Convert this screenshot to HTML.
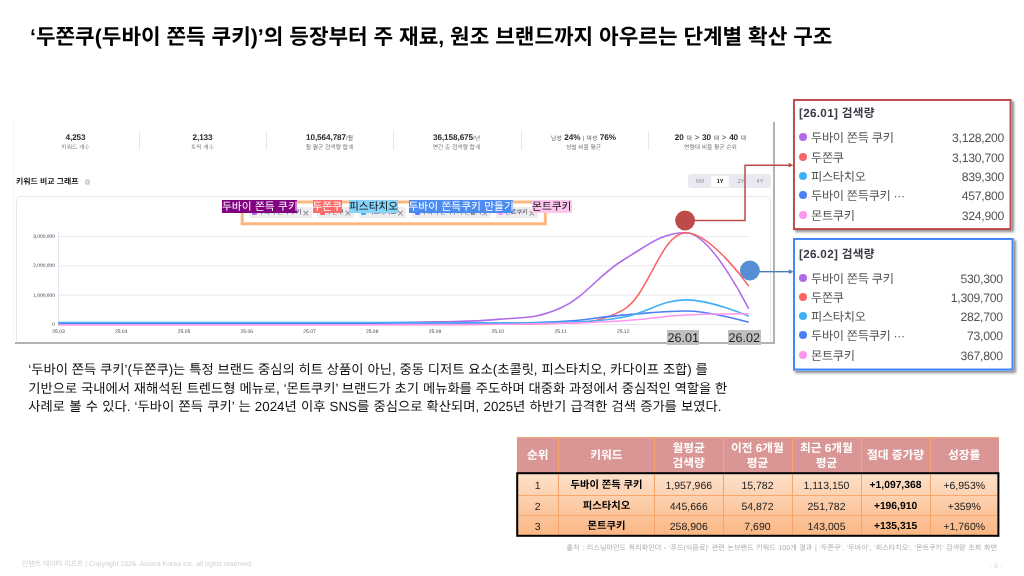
<!DOCTYPE html>
<html lang="ko">
<head>
<meta charset="utf-8">
<title>두쫀쿠 단계별 확산 구조</title>
<style>
*{box-sizing:border-box;margin:0;padding:0}
html,body{width:1024px;height:576px;overflow:hidden;background:#fff}
body{position:relative;text-rendering:geometricPrecision;font-family:"Liberation Sans","Noto Sans CJK KR",sans-serif;color:#000}
.abs{position:absolute}
#title{position:absolute;left:30px;top:18.5px;font-size:21.3px;font-weight:700;line-height:36px;white-space:nowrap;letter-spacing:0;color:#000}
/* screenshot panel */
#shot{position:absolute;left:13px;top:120px;width:760px;height:222px;background:#fff;border-left:1px solid #f6f6f8}
.shd{position:absolute;background:#b2b2b2}
#shotbg{position:absolute;left:0;top:0;width:1024px;height:576px}
.stat{position:absolute;top:131.1px;width:127px;text-align:center;white-space:nowrap}
.stat .n{font-size:8.2px;font-weight:700;color:#2a2a30;line-height:13px;height:13px;letter-spacing:-0.1px}
.stat .n small{font-size:5.8px;font-weight:400;color:#555;letter-spacing:0}
.stat .n u{text-decoration:none;font-weight:400;font-size:8px;color:#444}
.stat .l{font-size:5.8px;color:#777;line-height:8px;height:8px;margin-top:0.2px}
.sep{position:absolute;top:131px;width:1px;height:19px;background:#e6e6ee}
#gtitle{position:absolute;left:16px;top:176px;font-size:7.9px;font-weight:700;color:#222;line-height:12px;white-space:nowrap}
#ginfo{position:absolute;left:84.5px;top:179px;width:5.6px;height:5.6px;border-radius:50%;background:#d0d0d6}
#card{position:absolute;left:3px;top:76px;width:755px;height:160px;border:1px solid #e6e6ea;border-radius:5px;border-bottom:none}
#range{position:absolute;left:688px;top:174.1px;width:83px;height:14px;background:#e9e9f0;border-radius:3px}
#range span{position:absolute;top:1px;height:14px;line-height:14px;font-size:5.7px;color:#8c8ca2;text-align:center;width:20px}
#range .on{background:#fff;color:#111;font-weight:700;border-radius:2.5px;top:1.9px;height:10.6px;line-height:12.4px;width:18.3px}
.yl{position:absolute;left:20px;width:35px;text-align:right;font-size:4.9px;line-height:7px;color:#444;white-space:nowrap}
.xl{position:absolute;top:328.8px;width:30px;text-align:center;font-size:5px;line-height:7px;color:#444}
.pill{position:absolute;top:207.2px;height:10.8px;background:#ececf1;border-radius:2.5px;font-size:6.3px;line-height:10.6px;color:#3a3a44;white-space:nowrap;overflow:hidden}
.pill i{position:absolute;left:2.8px;top:3.1px;width:5px;height:5px;border-radius:1.2px}
.pill b{position:absolute;right:2.2px;top:1.7px;font-weight:400;font-size:11.5px;color:#8a8a8a}
.pill span{position:absolute;left:9.6px;top:1.3px;letter-spacing:-0.15px}
#orect{position:absolute;left:240.8px;top:200.6px;width:305.8px;height:24.6px;border:2.7px solid #fab680}
.tag{position:absolute;top:200.2px;height:13.2px;line-height:15.4px;font-size:10.7px;white-space:nowrap;text-align:center;overflow:hidden;word-spacing:0.5px}
.gl{position:absolute;top:329.7px;height:15px;line-height:16px;background:#bfbfbf;color:#222;font-size:12.6px;text-align:center;white-space:nowrap}
/* info boxes */
.box{position:absolute;background:#fff}
#rbox{left:793px;top:99px;width:218.5px;height:131px;box-shadow:1.5px 1.5px 2.5px rgba(0,0,0,.45)}
#bbox{left:793px;top:238px;width:220.5px;height:132.5px;box-shadow:1.5px 1.5px 2.5px rgba(0,0,0,.45)}
.box h4{position:absolute;left:6px;font-size:11.7px;font-weight:700;color:#3a3a46;line-height:16px;white-space:nowrap;letter-spacing:0.3px}
.box svg{position:absolute;left:0;top:0}
.row{position:absolute;left:0;right:0;margin-top:0.7px;height:18px;line-height:18px;font-size:12.2px;color:#555;white-space:nowrap;letter-spacing:-0.3px}
.row i{position:absolute;left:5.7px;top:4px;width:8px;height:8px;border-radius:50%}
.row span{position:absolute;left:18px;top:0}
#bbox .row em{right:10.7px}
.row em{position:absolute;right:7.5px;top:0;font-style:normal;color:#555;letter-spacing:-0.25px}
/* paragraph */
#para{position:absolute;left:28.3px;top:361.3px;font-size:13.3px;line-height:18.6px;color:#111;white-space:nowrap;letter-spacing:0;word-spacing:0.15px}
/* table */
#tbl{position:absolute;left:517px;top:437px;width:481.5px;height:99px}
#thead{position:absolute;left:0;top:0;width:481.5px;height:35.5px;background:#d99694;border-top:1px solid #f3a878}
.th{position:absolute;top:0;height:35.5px;color:#fff;font-weight:700;font-size:11.7px;line-height:15.4px;text-align:center;display:flex;align-items:center;justify-content:center;padding-top:0.6px}
.vs{position:absolute;top:0;width:1px;margin-left:-0.5px;background:#f5a56c}
#tbody{position:absolute;left:0;top:35.5px;width:481.5px;height:63.5px;background:linear-gradient(#fde1cb,#fbb682)}
.tr{position:absolute;left:0;width:481.5px;height:20.6px}
.td{position:absolute;top:0.6px;height:20.6px;line-height:20.6px;font-size:10.5px;color:#222;text-align:center;white-space:nowrap}
.td.b{font-weight:700;color:#000;font-size:10.3px;letter-spacing:0}
.hs{position:absolute;left:0;width:481.5px;height:1px;background:#f9a86e}
#src{position:absolute;right:27px;top:543.5px;font-size:7.1px;line-height:9px;color:#adadad;white-space:nowrap;word-spacing:0.65px}
#foot{position:absolute;left:22px;top:559.7px;font-size:6.95px;line-height:9px;color:#cfcfcf;white-space:nowrap}
#pno{position:absolute;left:990px;top:562.3px;font-size:7px;line-height:9px;color:#dadada;white-space:nowrap}
</style>
</head>
<body>
<div id="title">‘두쫀쿠(두바이 쫀득 쿠키)’의 등장부터 주 재료, 원조 브랜드까지 아우르는 단계별 확산 구조</div>

<div class="shd" style="left:773px;top:121.5px;width:1.7px;height:222.7px"></div><div class="shd" style="left:14.5px;top:342px;width:760.2px;height:2.2px"></div>
<div id="shot"></div>

<!-- stats -->
<div class="stat" style="left:12px"><div class="n">4,253</div><div class="l">키워드 개수</div></div>
<div class="stat" style="left:139px"><div class="n">2,133</div><div class="l">토픽 개수</div></div>
<div class="stat" style="left:266px"><div class="n">10,564,787<small>/월</small></div><div class="l">월 평균 검색량 합계</div></div>
<div class="stat" style="left:393px"><div class="n">36,158,675<small>/년</small></div><div class="l">연간 총 검색량 합계</div></div>
<div class="stat" style="left:520px"><div class="n" style="word-spacing:0.4px"><small>남성</small> 24% <small>| 여성</small> 76%</div><div class="l">성별 비율 평균</div></div>
<div class="stat" style="left:647px"><div class="n" style="word-spacing:0.6px">20 <small>대</small> <u>&gt;</u> 30 <small>대</small> <u>&gt;</u> 40 <small>대</small></div><div class="l">연령대 비율 평균 순위</div></div>
<div class="sep" style="left:139px"></div><div class="sep" style="left:266px"></div><div class="sep" style="left:393px"></div><div class="sep" style="left:520.5px"></div><div class="sep" style="left:647.5px"></div>

<div id="gtitle">키워드 비교 그래프</div><div id="ginfo"></div><div class="abs" style="left:87px;top:180.9px;width:0.7px;height:2px;background:#fff;opacity:.55"></div>
<div id="range"><span style="left:2px">6M</span><span class="on" style="left:23px">1Y</span><span style="left:43px">2Y</span><span style="left:62px">4Y</span></div>
<div class="abs" style="left:13px;top:120px;width:760px;height:222px;overflow:hidden"><div id="card"></div></div>

<svg id="shotbg" viewBox="0 0 1024 576">
<line x1="58.5" y1="324.5" x2="748.5" y2="324.5" stroke="#e4e4ec" stroke-width="0.8"/>
<line x1="58.5" y1="295.2" x2="748.5" y2="295.2" stroke="#e4e4ec" stroke-width="0.8"/>
<line x1="58.5" y1="265.8" x2="748.5" y2="265.8" stroke="#e4e4ec" stroke-width="0.8"/>
<line x1="58.5" y1="236.5" x2="748.5" y2="236.5" stroke="#e4e4ec" stroke-width="0.8"/>
<line x1="58.5" y1="232" x2="58.5" y2="324.5" stroke="#dcdcf0" stroke-width="0.8"/>
<line x1="58.5" y1="324.5" x2="58.5" y2="326.0" stroke="#dcdcf0" stroke-width="0.6"/>
<line x1="121.2" y1="324.5" x2="121.2" y2="326.0" stroke="#dcdcf0" stroke-width="0.6"/>
<line x1="184.0" y1="324.5" x2="184.0" y2="326.0" stroke="#dcdcf0" stroke-width="0.6"/>
<line x1="246.8" y1="324.5" x2="246.8" y2="326.0" stroke="#dcdcf0" stroke-width="0.6"/>
<line x1="309.5" y1="324.5" x2="309.5" y2="326.0" stroke="#dcdcf0" stroke-width="0.6"/>
<line x1="372.2" y1="324.5" x2="372.2" y2="326.0" stroke="#dcdcf0" stroke-width="0.6"/>
<line x1="435.0" y1="324.5" x2="435.0" y2="326.0" stroke="#dcdcf0" stroke-width="0.6"/>
<line x1="497.8" y1="324.5" x2="497.8" y2="326.0" stroke="#dcdcf0" stroke-width="0.6"/>
<line x1="560.5" y1="324.5" x2="560.5" y2="326.0" stroke="#dcdcf0" stroke-width="0.6"/>
<line x1="623.2" y1="324.5" x2="623.2" y2="326.0" stroke="#dcdcf0" stroke-width="0.6"/>
<line x1="686.0" y1="324.5" x2="686.0" y2="326.0" stroke="#dcdcf0" stroke-width="0.6"/>
<line x1="748.8" y1="324.5" x2="748.8" y2="326.0" stroke="#dcdcf0" stroke-width="0.6"/>

<path d="M58.50,323.62 C58.50,323.62 96.15,323.62 121.25,323.62 C146.35,323.62 158.90,323.59 184.00,323.56 C209.10,323.53 221.65,323.52 246.75,323.47 C271.85,323.43 284.40,323.44 309.50,323.33 C334.60,323.21 347.15,323.18 372.25,322.89 C397.35,322.59 409.90,322.56 435.00,321.86 C460.10,321.16 472.65,321.86 497.75,319.37 C522.85,316.87 535.40,319.37 560.50,308.08 C585.60,296.78 598.15,275.04 623.25,259.97 C648.35,244.91 660.90,232.75 686.00,232.75 C711.10,232.75 748.75,308.95 748.75,308.95" fill="none" stroke="#b06be8" stroke-width="1.55" stroke-linecap="butt"/>
<path d="M58.50,324.50 C58.50,324.50 96.15,324.50 121.25,324.50 C146.35,324.50 158.90,324.50 184.00,324.50 C209.10,324.50 221.65,324.50 246.75,324.50 C271.85,324.50 284.40,324.50 309.50,324.50 C334.60,324.50 347.15,324.50 372.25,324.50 C397.35,324.50 409.90,324.46 435.00,324.41 C460.10,324.37 472.65,324.41 497.75,324.27 C522.85,324.12 535.40,324.27 560.50,323.33 C585.60,322.39 598.15,323.33 623.25,309.83 C648.35,296.34 660.90,232.68 686.00,232.68 C711.10,232.68 748.75,286.09 748.75,286.09" fill="none" stroke="#fa6464" stroke-width="1.55" stroke-linecap="butt"/>
<path d="M58.50,323.33 C58.50,323.33 96.15,323.33 121.25,323.33 C146.35,323.33 158.90,323.33 184.00,323.33 C209.10,323.33 221.65,323.33 246.75,323.33 C271.85,323.33 284.40,323.33 309.50,323.33 C334.60,323.33 347.15,323.33 372.25,323.33 C397.35,323.33 409.90,323.32 435.00,323.27 C460.10,323.22 472.65,323.27 497.75,323.09 C522.85,322.92 535.40,323.09 560.50,321.57 C585.60,320.04 598.15,317.21 623.25,315.11 C648.35,313.02 660.90,311.07 686.00,311.07 C711.10,311.07 748.75,322.36 748.75,322.36" fill="none" stroke="#4a7ff5" stroke-width="1.55" stroke-linecap="butt"/>
<path d="M58.50,322.45 C58.50,322.45 96.15,322.45 121.25,322.45 C146.35,322.45 158.90,322.45 184.00,322.45 C209.10,322.45 221.65,322.51 246.75,322.51 C271.85,322.51 284.40,322.51 309.50,322.51 C334.60,322.51 347.15,322.53 372.25,322.56 C397.35,322.60 409.90,322.65 435.00,322.68 C460.10,322.72 472.65,322.74 497.75,322.74 C522.85,322.74 535.40,322.74 560.50,322.15 C585.60,321.57 598.15,321.62 623.25,317.17 C648.35,312.71 660.90,299.88 686.00,299.88 C711.10,299.88 748.75,316.21 748.75,316.21" fill="none" stroke="#3fb0f5" stroke-width="1.55" stroke-linecap="butt"/>
<path d="M58.50,324.73 C58.50,324.73 96.15,324.73 121.25,324.73 C146.35,324.73 158.90,324.73 184.00,324.73 C209.10,324.73 221.65,324.73 246.75,324.73 C271.85,324.73 284.40,324.73 309.50,324.73 C334.60,324.73 347.15,324.72 372.25,324.68 C397.35,324.63 409.90,324.58 435.00,324.50 C460.10,324.42 472.65,324.50 497.75,324.27 C522.85,324.03 535.40,324.04 560.50,323.33 C585.60,322.61 598.15,322.36 623.25,320.69 C648.35,319.02 660.90,316.23 686.00,314.97 C711.10,313.71 748.75,313.71 748.75,313.71" fill="none" stroke="#ff96ee" stroke-width="1.55" stroke-linecap="butt"/>

</svg>
<div class="yl" style="top:322.1px">0</div>
<div class="yl" style="top:292.8px">1,000,000</div>
<div class="yl" style="top:263.4px">2,000,000</div>
<div class="yl" style="top:234.1px">3,000,000</div>

<div class="xl" style="left:43.5px">25.03</div>
<div class="xl" style="left:106.2px">25.04</div>
<div class="xl" style="left:169.0px">25.05</div>
<div class="xl" style="left:231.8px">25.06</div>
<div class="xl" style="left:294.5px">25.07</div>
<div class="xl" style="left:357.2px">25.08</div>
<div class="xl" style="left:420.0px">25.09</div>
<div class="xl" style="left:482.8px">25.10</div>
<div class="xl" style="left:545.5px">25.11</div>
<div class="xl" style="left:608.2px">25.12</div>


<!-- pills -->
<div class="pill" style="left:249px;width:62.5px"><i style="background:#b06be8"></i><span>두바이 쫀득 쿠키</span><b>×</b></div>
<div class="pill" style="left:317px;width:36.5px"><i style="background:#fa6464"></i><span>두쫀쿠</span><b>×</b></div>
<div class="pill" style="left:358.5px;width:47.5px"><i style="background:#3fb0f5"></i><span>피스타치오</span><b>×</b></div>
<div class="pill" style="left:412px;width:78.5px"><i style="background:#4a7ff5"></i><span>두바이 쫀득쿠키 만들기</span><b>×</b></div>
<div class="pill" style="left:495.5px;width:42px"><i style="background:#ff96ee"></i><span>몬트쿠키</span><b>×</b></div>
<svg class="abs" style="left:236px;top:196px" width="316" height="34" viewBox="236 196 316 34"><rect x="242.2" y="202" width="303.1" height="21.8" fill="none" stroke="#fab780" stroke-width="3"/></svg>
<div class="tag" style="left:222px;width:75px;background:#800080;color:#fff">두바이 쫀득 쿠키</div>
<div class="tag" style="left:312.5px;width:29.5px;background:#fb6c6c;color:#fff">두쫀쿠</div>
<div class="tag" style="left:349px;width:49px;background:#87d3fb;color:#111">피스타치오</div>
<div class="tag" style="left:408.5px;width:104px;background:#4c8bf2;color:#fff">두바이 쫀득쿠키 만들기</div>
<div class="tag" style="left:532px;width:39.5px;background:#fcc6ef;color:#111">몬트쿠키</div>

<div class="gl" style="left:667.3px;width:31.7px">26.01</div>
<div class="gl" style="left:727.5px;width:33.5px">26.02</div>

<!-- connectors -->
<svg class="abs" style="left:0;top:0" width="1024" height="576" viewBox="0 0 1024 576">
<polyline points="694,220.6 745,220.6 745,165.2 789.5,165.2" fill="none" stroke="#be4b48" stroke-width="1.5"/>
<polygon points="793.3,165.2 788.6,162.8 788.6,167.6" fill="#be4b48"/>
<circle cx="685.1" cy="220.5" r="9.95" fill="#be4b48"/>
<line x1="759" y1="271.7" x2="789.5" y2="271.7" stroke="#4a7ebb" stroke-width="1.35"/>
<polygon points="793.5,271.7 788.8,269.3 788.8,274.1" fill="#4a7ebb"/>
<circle cx="749.9" cy="270.5" r="9.95" fill="#558ed5"/>
</svg>

<!-- boxes -->
<div class="box" id="rbox">
<svg width="218.5" height="131" viewBox="0 0 218.5 131"><rect x="0.9" y="0.9" width="216.7" height="129.2" fill="none" stroke="#be4b48" stroke-width="2.1"/></svg>
<h4 style="top:7px">[26.01] 검색량</h4>
<div class="row" style="top:29px"><i style="background:#b06be8"></i><span>두바이 쫀득 쿠키</span><em>3,128,200</em></div>
<div class="row" style="top:49px"><i style="background:#fa6464"></i><span>두쫀쿠</span><em>3,130,700</em></div>
<div class="row" style="top:68.5px"><i style="background:#3fb0f5"></i><span>피스타치오</span><em>839,300</em></div>
<div class="row" style="top:87.5px"><i style="background:#4a7ff5"></i><span>두바이 쫀득쿠키 ···</span><em>457,800</em></div>
<div class="row" style="top:107px"><i style="background:#ff96ee"></i><span>몬트쿠키</span><em>324,900</em></div>
</div>
<div class="box" id="bbox">
<svg width="220.5" height="132.5" viewBox="0 0 220.5 132.5"><rect x="0.9" y="0.9" width="218.7" height="130.7" fill="none" stroke="#4487f6" stroke-width="2.2"/></svg>
<h4 style="top:9px">[26.02] 검색량</h4>
<div class="row" style="top:31px"><i style="background:#b06be8"></i><span>두바이 쫀득 쿠키</span><em>530,300</em></div>
<div class="row" style="top:50px"><i style="background:#fa6464"></i><span>두쫀쿠</span><em>1,309,700</em></div>
<div class="row" style="top:69.5px"><i style="background:#3fb0f5"></i><span>피스타치오</span><em>282,700</em></div>
<div class="row" style="top:88px"><i style="background:#4a7ff5"></i><span>두바이 쫀득쿠키 ···</span><em>73,000</em></div>
<div class="row" style="top:108px"><i style="background:#ff96ee"></i><span>몬트쿠키</span><em>367,800</em></div>
</div>

<div id="para"><span>‘두바이 쫀득 쿠키’(두쫀쿠)는 특정 브랜드 중심의 히트 상품이 아닌, 중동 디저트 요소(초콜릿, 피스타치오, 카다이프 조합) 를</span><br><span>기반으로 국내에서 재해석된 트렌드형 메뉴로, ‘몬트쿠키’ 브랜드가 초기 메뉴화를 주도하며 대중화 과정에서 중심적인 역할을 한</span><br><span style="word-spacing:0.55px">사례로 볼 수 있다. ‘두바이 쫀득 쿠키’ 는 2024년 이후 SNS를 중심으로 확산되며, 2025년 하반기 급격한 검색 증가를 보였다.</span></div>

<!-- table -->
<div id="tbl">
<div id="thead">
<div class="th" style="left:0;width:41.5px">순위</div>
<div class="th" style="left:41.5px;width:96px">키워드</div>
<div class="th" style="left:137.5px;width:68.5px">월평균<br>검색량</div>
<div class="th" style="left:206px;width:69px">이전 6개월<br>평균</div>
<div class="th" style="left:275px;width:69px">최근 6개월<br>평균</div>
<div class="th" style="left:344px;width:69px">절대 증가량</div>
<div class="th" style="left:413px;width:68.5px">성장률</div>
</div>
<div id="tbody"></div>
<div class="tr" style="top:38.3px">
<div class="td" style="left:0;width:41.5px">1</div><div class="td b" style="left:41.5px;width:96px">두바이 쫀득 쿠키</div><div class="td" style="left:137.5px;width:68.5px">1,957,966</div><div class="td" style="left:206px;width:69px">15,782</div><div class="td" style="left:275px;width:69px">1,113,150</div><div class="td b" style="left:344px;width:69px">+1,097,368</div><div class="td" style="left:413px;width:68.5px">+6,953%</div>
</div>
<div class="tr" style="top:59.2px">
<div class="td" style="left:0;width:41.5px">2</div><div class="td b" style="left:41.5px;width:96px">피스타치오</div><div class="td" style="left:137.5px;width:68.5px">445,666</div><div class="td" style="left:206px;width:69px">54,872</div><div class="td" style="left:275px;width:69px">251,782</div><div class="td b" style="left:344px;width:69px">+196,910</div><div class="td" style="left:413px;width:68.5px">+359%</div>
</div>
<div class="tr" style="top:79.2px">
<div class="td" style="left:0;width:41.5px">3</div><div class="td b" style="left:41.5px;width:96px">몬트쿠키</div><div class="td" style="left:137.5px;width:68.5px">258,906</div><div class="td" style="left:206px;width:69px">7,690</div><div class="td" style="left:275px;width:69px">143,005</div><div class="td b" style="left:344px;width:69px">+135,315</div><div class="td" style="left:413px;width:68.5px">+1,760%</div>
</div>
<div class="hs" style="top:57.6px"></div><div class="hs" style="top:78.2px"></div>
<div class="vs" style="left:41.5px;height:98px"></div><div class="vs" style="left:137.5px;height:98px"></div><div class="vs" style="left:206px;height:98px"></div><div class="vs" style="left:275px;height:98px"></div><div class="vs" style="left:344px;height:98px"></div><div class="vs" style="left:413px;height:98px"></div>
<svg class="abs" style="left:-2px;top:33px" width="486" height="69" viewBox="-2 33 486 69"><rect x="0.2" y="36.2" width="481.2" height="62.6" fill="none" stroke="#000" stroke-width="2"/></svg>
</div>
<div id="src">출처 : 리스닝마인드 쿼리파인더 - ‘푸드(식음료)’ 관련 논브랜드 키워드 100개 결과 | ‘두쫀쿠’, ‘두바이’, ‘피스타치오’, ‘몬트쿠키’ 검색량 조회 화면</div>
<div id="foot">인텐트 데이터 리포트 | Copyright 2026. Ascent Korea Inc. all rights reserved.</div>
<div id="pno">- 8 -</div>
</body>
</html>
